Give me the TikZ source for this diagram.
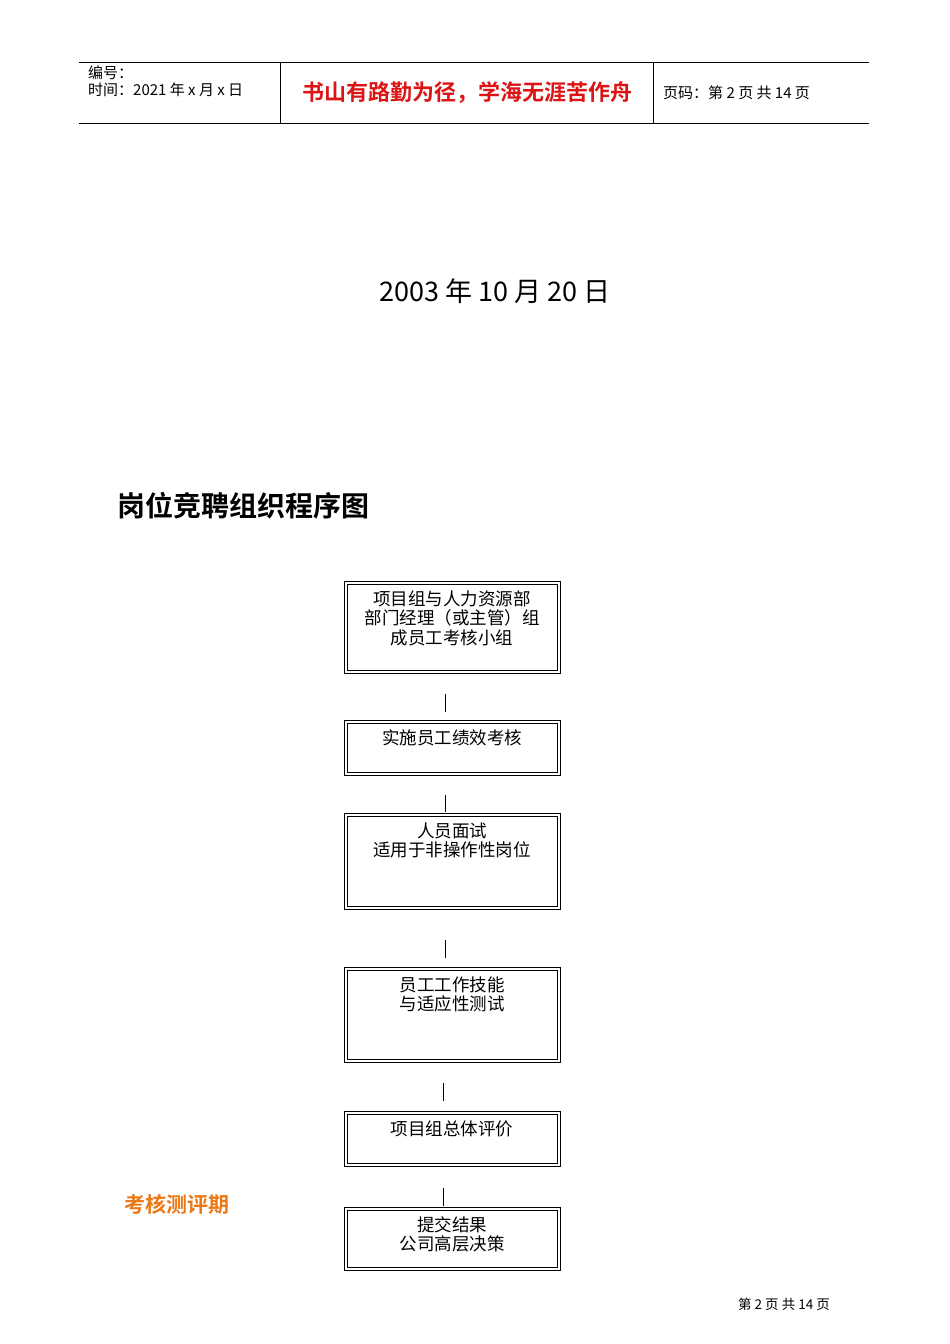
\documentclass[tikz,border=0pt]{standalone}
\usepackage{fontspec}
\newfontfamily\cjk{Noto Sans CJK SC}
\newfontfamily\cjkb{Noto Sans CJK SC Bold}
\begin{document}
\begin{tikzpicture}[x=1pt,y=-1pt,
  btxt/.style={anchor=north,align=center,font=\cjk\fontsize{17.5}{19.5}\selectfont},
  conn/.style={line width=0.8pt}]
\useasboundingbox[fill=white] (0,0) rectangle (950,1344);
\draw[line width=0.6pt] (79,62) -- (869,62) (79,123) -- (869,123) (280,62) -- (280,123) (653,62) -- (653,123);
\node[anchor=west,font=\cjk\fontsize{15}{15}\selectfont,inner sep=0] (h1) at (88,73) {编号：};
\node[anchor=west,font=\cjk\fontsize{15}{15}\selectfont,inner sep=0] (h2) at (88,90) {时间：2021 年 x 月 x 日};
\node[font=\cjkb\fontsize{22}{22}\selectfont,text={rgb,255:red,220;green,20;blue,20}] (h3) at (467,93) {书山有路勤为径，学海无涯苦作舟};
\node[anchor=west,font=\cjk\fontsize{15}{15}\selectfont,inner sep=0] (h4) at (663,93) {页码：第 2 页 共 14 页};
\node[font=\cjk\fontsize{27}{27}\selectfont] (date) at (495,291) {2003 年 10 月 20 日};
\node[anchor=west,font=\cjkb\fontsize{28}{28}\selectfont,inner sep=0] (title) at (117,506) {岗位竞聘组织程序图};
\foreach \n/\ya/\yb in {b1/581/673,b2/720/775,b3/813/909,b4/967/1062,b5/1111/1166,b6/1207/1270}{
  \draw[line width=0.8pt] (344,\ya) rectangle (560,\yb);
  \draw[line width=0.8pt] (347,\ya+3) rectangle (557,\yb-3);
  \coordinate (\n) at (452,\ya+6);
}
\node[btxt] at (b1) {项目组与人力资源部\\部门经理（或主管）组\\成员工考核小组};
\node[btxt] at (b2) {实施员工绩效考核};
\node[btxt] at (b3) {人员面试\\适用于非操作性岗位};
\node[btxt] at (b4) {员工工作技能\\与适应性测试};
\node[btxt] at (b5) {项目组总体评价};
\node[btxt] at (b6) {提交结果\\公司高层决策};
\draw[conn] (445,694) -- (445,712) (445,795) -- (445,812) (445,940) -- (445,958) (443,1083) -- (443,1101) (443,1188) -- (443,1206);
\node[anchor=west,font=\cjkb\fontsize{21}{21}\selectfont,text={rgb,255:red,235;green,120;blue,20},inner sep=0] (k) at (124,1204) {考核测评期};
\node[anchor=west,font=\cjk\fontsize{13.5}{13.5}\selectfont,inner sep=0] (f) at (738,1304) {第 2 页 共 14 页};
\end{tikzpicture}
\end{document}
